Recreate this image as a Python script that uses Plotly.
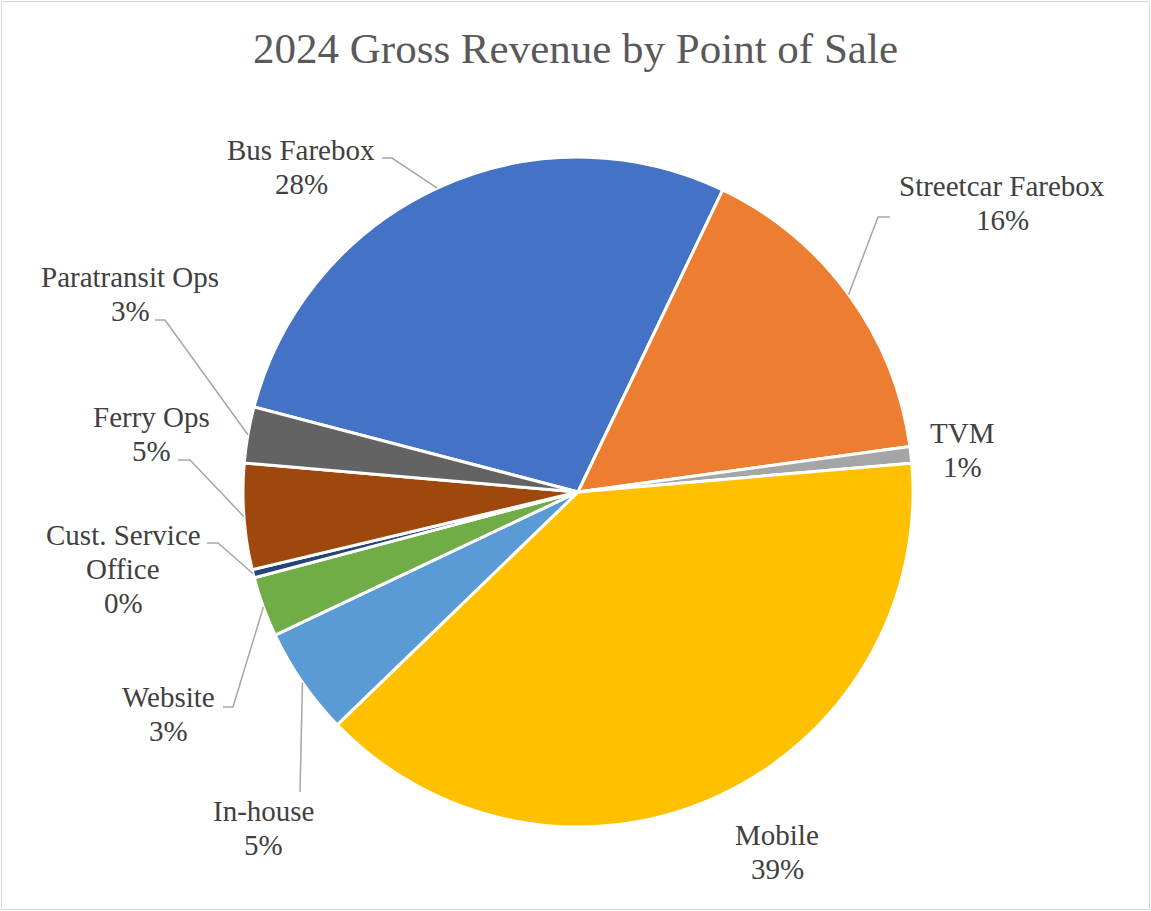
import math
import plotly.graph_objects as go

# data (share of gross revenue, %)
categories = ["Bus Farebox", "Streetcar Farebox", "TVM", "Mobile", "In-house",
              "Website", "Cust. Service Office", "Ferry Ops", "Paratransit Ops"]
values = [28.0, 15.7, 0.8, 39.1, 5.2, 2.9, 0.4, 5.1, 2.7]
colors = ["#4472C4", "#ED7D31", "#A5A5A5", "#FFC000", "#5B9BD5",
          "#70AD47", "#264478", "#9E480E", "#636363"]

W, H = 1151, 911
CX, CY, R = 578, 492, 335   # pie centre / radius in px
ROT = -75.3                 # first slice starts here (deg, clockwise from top)
FONT = "Liberation Serif, Times New Roman, serif"
TXT = "#404040"
LINE_H = 34

# label placement (px): centre of first text line, leader end, leader elbow
label_pos = {
    "Bus Farebox":          dict(x=301, y=150, end=(382, 158), elbow=(392, 158)),
    "Streetcar Farebox":    dict(x=1002, y=186, end=(890, 217), elbow=(878, 217)),
    "TVM":                  dict(x=962, y=433),
    "Mobile":               dict(x=777, y=835),
    "In-house":             dict(x=263, y=811, end=(300, 792), elbow=(300, 792)),
    "Website":              dict(x=168, y=697, end=(223, 707), elbow=(233, 707)),
    "Cust. Service Office": dict(x=123, y=535, end=(207, 543), elbow=(218, 543)),
    "Ferry Ops":            dict(x=151, y=417, end=(178, 460), elbow=(190, 460)),
    "Paratransit Ops":      dict(x=130, y=277, end=(155, 320), elbow=(165, 320)),
}
wrap = {"Cust. Service Office": ["Cust. Service", "Office"]}


def px(x, y):
    return x / W, 1 - y / H


fig = go.Figure(go.Pie(
    labels=categories,
    values=values,
    sort=False,
    direction="clockwise",
    rotation=ROT,
    marker=dict(colors=colors, line=dict(color="white", width=3)),
    textinfo="none",
    hoverinfo="label+percent",
    domain=dict(x=[(CX - R) / W, (CX + R) / W], y=[1 - (CY + R) / H, 1 - (CY - R) / H]),
    showlegend=False,
))

total = sum(values)
cum = 0
annotations = []
shapes = []
for name, v in zip(categories, values):
    mid = math.radians(ROT + (cum + v / 2) / total * 360)
    cum += v
    pos = label_pos[name]
    lines = wrap.get(name, [name]) + ["%d%%" % round(v / total * 100)]
    for i, t in enumerate(lines):
        x, y = px(pos["x"], pos["y"] + i * LINE_H)
        annotations.append(dict(x=x, y=y, xref="paper", yref="paper", text=t,
                                showarrow=False, xanchor="center", yanchor="middle",
                                font=dict(family=FONT, size=29, color=TXT)))
    if "end" in pos:
        ex, ey = CX + R * math.sin(mid), CY - R * math.cos(mid)
        pts = [px(ex, ey), px(*pos["elbow"]), px(*pos["end"])]
        path = "M %f %f L %f %f L %f %f" % (pts[0] + pts[1] + pts[2])
        shapes.append(dict(type="path", path=path, xref="paper", yref="paper",
                           line=dict(color="#A6A6A6", width=1.5)))

# chart-area border
shapes.append(dict(type="rect", xref="paper", yref="paper",
                   x0=1.5 / W, x1=1 - 1.5 / W, y0=1.5 / H, y1=1 - 1.5 / H,
                   line=dict(color="#D9D9D9", width=1)))

fig.update_layout(
    width=W, height=H,
    margin=dict(l=0, r=0, t=0, b=0),
    paper_bgcolor="white",
    title=dict(text="2024 Gross Revenue by Point of Sale", x=0.5, xanchor="center",
               y=1 - 48 / H, yanchor="middle", yref="container",
               font=dict(family=FONT, size=43, color="#595959")),
    annotations=annotations,
    shapes=shapes,
)

fig.write_html("out.html", config={"displayModeBar": False},
               post_script="document.body.style.margin='0';")
